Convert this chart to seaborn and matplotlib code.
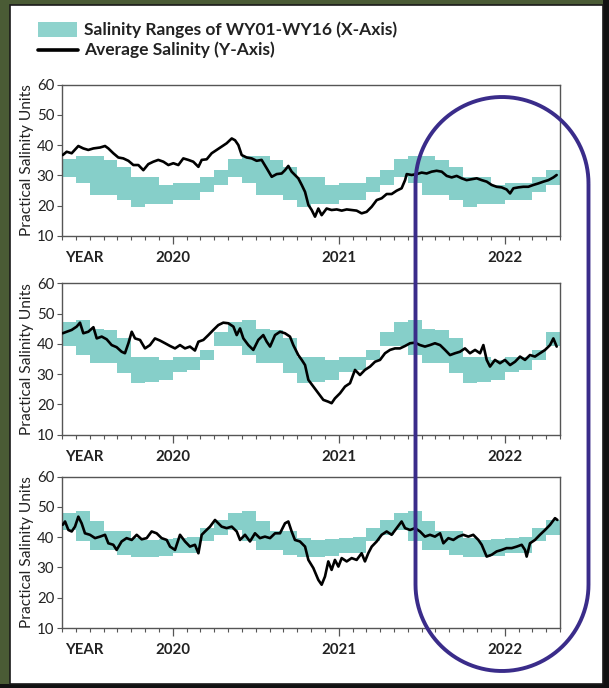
import numpy as np
import matplotlib
matplotlib.use("Agg")
import matplotlib.pyplot as plt
import seaborn as sns
from matplotlib.path import Path
from matplotlib.patches import PathPatch, Rectangle
from matplotlib.lines import Line2D
from matplotlib.transforms import Affine2D

sns.set_style("ticks")
plt.rcParams["font.family"] = ["Lato", "DejaVu Sans"]

# ---------------- data (months since 1 Oct 2019) ----------------
YEAR_TICKS = [1.6, 8, 20, 32]
YEAR_LABELS = ["YEAR", "2020", "2021", "2022"]
Y_TICKS = [10, 20, 30, 40, 50, 60]
Y_LABEL = "Practical Salinity Units"
LEGEND_BAND = "Salinity Ranges of WY01-WY16 (X-Axis)"
LEGEND_LINE = "Average Salinity (Y-Axis)"

# monthly WY01-WY16 salinity range (36 months shown)
P1_HIGH = [35.5, 36.4, 36.4, 35.2, 32.8, 29.3, 29.3, 26.8, 27.3, 27.3, 29.5, 31.7,
           35.5, 36.4, 36.4, 35.2, 32.8, 29.3, 29.3, 26.8, 27.3, 27.3, 29.5, 31.7,
           35.5, 36.4, 36.4, 35.2, 32.8, 29.3, 29.3, 26.8, 27.3, 27.3, 29.5, 31.7]
P1_LOW = [29.3, 27.5, 23.5, 23.5, 21.8, 19.6, 20.4, 20.4, 21.8, 21.8, 24.6, 26.8,
          29.3, 27.5, 23.5, 23.5, 21.8, 19.6, 20.4, 20.4, 21.8, 21.8, 24.6, 26.8,
          29.3, 27.5, 23.5, 23.5, 21.8, 19.6, 20.4, 20.4, 21.8, 21.8, 24.6, 26.8]
P2_HIGH = [47.1, 47.9, 45.0, 44.6, 41.8, 35.6, 35.6, 34.7, 35.6, 35.6, 38.0, 44.0,
           47.1, 47.9, 45.0, 44.6, 41.8, 35.6, 35.6, 34.7, 35.6, 35.6, 38.0, 44.0,
           47.1, 47.9, 45.0, 44.6, 41.8, 35.6, 35.6, 34.7, 35.6, 35.6, 38.0, 44.0]
P2_LOW = [39.2, 36.3, 33.6, 33.6, 30.3, 27.2, 27.5, 28.1, 30.8, 31.4, 34.7, 39.3,
          39.2, 36.3, 33.6, 33.6, 30.3, 27.2, 27.5, 28.1, 30.8, 31.4, 34.7, 39.3,
          39.2, 36.3, 33.6, 33.6, 30.3, 27.2, 27.5, 28.1, 30.8, 31.4, 34.7, 39.3]
P3_HIGH = [48.1, 48.8, 45.2, 41.9, 41.9, 39.7, 39.1, 39.3, 39.7, 40.2, 43.0, 45.7,
           48.1, 48.8, 45.2, 41.9, 41.9, 39.7, 39.1, 39.3, 39.7, 40.2, 43.0, 45.7,
           48.1, 48.8, 45.2, 41.9, 41.9, 39.7, 39.1, 39.3, 39.7, 40.2, 43.0, 45.7]
P3_LOW = [42.4, 38.6, 35.8, 35.8, 34.2, 33.4, 33.4, 33.8, 34.7, 34.9, 38.6, 40.8,
          42.4, 38.6, 35.8, 35.8, 34.2, 33.4, 33.4, 33.8, 34.7, 34.9, 38.6, 40.8,
          42.4, 38.6, 35.8, 35.8, 34.2, 33.4, 33.4, 33.8, 34.7, 34.9, 38.6, 40.8]

# average salinity (time in months, value in PSU)
P1_T = [0.05, 0.34, 0.70, 1.18, 1.54, 1.90, 2.27, 2.75, 3.11, 3.35, 3.71, 4.07, 4.43, 4.80,
        5.16, 5.52, 5.88, 6.24, 6.60, 6.96, 7.33, 7.69, 8.05, 8.41, 8.77, 9.13, 9.49, 9.86,
        10.10, 10.46, 10.82, 11.18, 11.54, 11.90, 12.27, 12.51, 12.75, 12.99, 13.35, 13.71,
        14.07, 14.43, 14.80, 15.16, 15.52, 15.88, 16.12, 16.36, 16.60, 16.84, 17.08, 17.33,
        17.57, 17.81, 18.05, 18.29, 18.53, 18.77, 19.13, 19.49, 19.86, 20.22, 20.58, 20.94,
        21.30, 21.66, 22.02, 22.39, 22.75, 23.11, 23.47, 23.83, 24.19, 24.55, 24.80, 24.92,
        25.28, 25.64, 26.00, 26.36, 26.72, 27.08, 27.45, 27.81, 28.17, 28.53, 28.89, 29.25,
        29.61, 29.98, 30.34, 30.70, 31.06, 31.42, 31.78, 32.14, 32.39, 32.63, 32.99, 33.35,
        33.71, 34.07, 34.43, 34.80, 35.16, 35.52, 35.76]
P1_S = [36.7, 37.8, 37.3, 39.7, 38.9, 38.4, 38.9, 39.2, 39.7, 38.9, 37.3, 35.9, 35.6, 34.8,
        33.4, 33.4, 31.7, 33.7, 34.5, 35.1, 34.5, 33.4, 34.0, 33.4, 35.6, 35.1, 34.5, 32.8,
        35.1, 35.3, 37.3, 38.4, 39.5, 40.6, 42.2, 41.6, 40.0, 36.7, 35.9, 35.6,
        34.8, 35.1, 32.3, 29.5, 30.4, 30.6, 31.7, 33.1, 31.2, 30.1, 29.0, 26.8,
        24.5, 20.2, 18.5, 16.3, 19.0, 16.8, 19.0, 18.5, 18.7, 18.3, 18.7, 18.5,
        18.3, 17.4, 17.9, 19.6, 21.8, 22.4, 23.8, 23.8, 24.9, 25.7, 28.4, 30.4,
        30.1, 30.4, 30.9, 30.6, 31.2, 31.5, 31.2, 29.8, 29.3, 29.8, 29.0, 28.4,
        28.7, 29.0, 28.4, 27.9, 26.8, 26.2, 26.0, 25.3, 24.0, 25.7, 26.0, 26.2,
        26.2, 26.8, 27.3, 27.9, 28.4, 29.3, 30.1]

P2_T = [0.05, 0.34, 0.70, 1.06, 1.30, 1.54, 1.90, 2.27, 2.51, 2.87, 3.23, 3.59, 3.95, 4.31,
        4.55, 4.80, 5.04, 5.28, 5.64, 6.00, 6.36, 6.72, 7.08, 7.45, 7.81, 8.17, 8.53, 8.89,
        9.25, 9.61, 9.86, 10.22, 10.58, 10.94, 11.30, 11.66, 12.02, 12.39, 12.63, 12.87,
        13.11, 13.47, 13.83, 14.19, 14.55, 14.80, 15.04, 15.40, 15.76, 16.12, 16.48, 16.72,
        17.08, 17.33, 17.57, 17.81, 18.17, 18.53, 18.89, 19.25, 19.49, 19.73, 20.10, 20.46,
        20.82, 21.18, 21.54, 21.90, 22.27, 22.63, 22.99, 23.35, 23.71, 24.07, 24.43, 24.80,
        25.16, 25.52, 25.88, 26.24, 26.60, 26.96, 27.33, 27.69, 28.05, 28.41, 28.77, 29.13,
        29.49, 29.86, 30.22, 30.46, 30.70, 30.94, 31.30, 31.66, 32.02, 32.39, 32.75, 33.11,
        33.47, 33.83, 34.19, 34.55, 34.92, 35.28, 35.52, 35.76]
P2_S = [43.5, 44.0, 44.6, 45.7, 47.0, 43.5, 44.0, 45.5, 41.8, 42.4, 41.5, 39.6, 38.9, 37.4,
        36.9, 40.2, 44.0, 41.8, 41.3, 38.5, 39.6, 41.8, 41.1, 40.2, 39.3, 38.5, 39.6, 38.5,
        39.1, 37.8, 40.7, 41.3, 42.9, 44.6, 46.2, 47.0, 46.8, 45.7, 42.9, 45.1,
        41.8, 39.6, 38.0, 41.3, 42.9, 40.7, 39.1, 42.9, 44.0, 43.5, 42.4, 39.6,
        36.3, 34.7, 33.0, 28.1, 25.9, 23.7, 21.5, 20.9, 20.4, 22.0, 23.7, 25.9,
        27.0, 31.4, 29.7, 31.4, 32.5, 34.1, 34.7, 36.9, 38.0, 38.5, 38.5, 39.3,
        40.2, 40.4, 39.6, 39.1, 39.6, 40.2, 39.6, 38.0, 36.3, 36.9, 37.4, 38.5,
        36.9, 38.0, 36.9, 39.6, 34.7, 32.5, 34.7, 33.6, 34.7, 33.0, 34.1, 35.8,
        34.7, 36.3, 35.8, 36.9, 38.0, 39.6, 41.8, 39.1]

P3_T = [0.05, 0.22, 0.46, 0.70, 0.94, 1.18, 1.42, 1.66, 2.02, 2.39, 2.75, 3.11, 3.35, 3.71,
        3.95, 4.31, 4.67, 5.04, 5.40, 5.76, 6.12, 6.48, 6.84, 7.20, 7.57, 7.81, 8.17, 8.53,
        8.89, 9.25, 9.61, 9.86, 10.10, 10.34, 10.70, 11.06, 11.30, 11.54, 11.90, 12.27,
        12.63, 12.87, 13.23, 13.59, 13.95, 14.31, 14.67, 15.04, 15.40, 15.76, 16.12, 16.36,
        16.60, 16.84, 17.20, 17.57, 17.81, 18.17, 18.53, 18.77, 19.01, 19.25, 19.49, 19.73,
        19.98, 20.22, 20.58, 20.94, 21.30, 21.66, 21.90, 22.14, 22.39, 22.75, 23.11, 23.47,
        23.83, 24.19, 24.55, 24.80, 25.16, 25.52, 25.88, 26.24, 26.60, 26.96, 27.33, 27.57,
        27.93, 28.29, 28.65, 29.01, 29.37, 29.73, 30.10, 30.34, 30.70, 31.06, 31.42, 31.78,
        32.14, 32.51, 32.87, 33.23, 33.47, 33.59, 33.83, 34.19, 34.55, 34.92, 35.28, 35.64,
        35.81]
P3_S = [44.1, 45.2, 42.4, 41.9, 43.5, 46.8, 44.6, 41.3, 40.8, 39.7, 40.2, 40.8, 38.0, 37.5,
        35.8, 38.6, 39.7, 39.1, 40.8, 39.3, 39.7, 41.9, 41.3, 39.7, 39.1, 36.9, 35.8, 40.8,
        38.6, 36.9, 37.5, 34.7, 40.8, 41.9, 43.5, 45.7, 44.6, 43.5, 43.0, 43.5,
        41.9, 39.1, 40.8, 38.6, 41.3, 39.7, 40.2, 39.7, 41.3, 41.3, 44.6, 45.2,
        41.9, 39.1, 38.6, 36.9, 32.5, 29.8, 25.9, 24.3, 27.0, 32.0, 29.2, 32.5,
        30.3, 33.1, 32.0, 33.1, 32.5, 34.7, 32.0, 34.7, 36.9, 38.6, 40.8, 41.9,
        40.8, 43.0, 45.2, 43.0, 42.4, 43.0, 41.9, 40.2, 40.8, 40.2, 41.3, 38.0,
        39.7, 39.1, 40.2, 40.8, 40.2, 40.8, 39.1, 37.5, 33.6, 34.2, 35.3, 35.8,
        36.4, 36.4, 36.9, 37.5, 35.8, 33.6, 38.0, 39.1, 40.8, 42.4, 44.1, 46.3,
        45.7]

PANELS = [
    (P1_LOW, P1_HIGH, P1_T, P1_S),
    (P2_LOW, P2_HIGH, P2_T, P2_S),
    (P3_LOW, P3_HIGH, P3_T, P3_S),
]

# ---------------- styling / layout ----------------
W, H = 609, 688
BAND_COLOR = "#86cfc9"
FRAME_GREEN = "#4a5b35"
OVAL_COLOR = "#3a2c8a"
SPINE = "#555555"

fig = plt.figure(figsize=(W / 100, H / 100), dpi=100, facecolor=FRAME_GREEN)
px = Affine2D().scale(1 / W, 1 / H) + fig.transFigure

# white page with dark frame
fig.patches.append(Rectangle((603, 0), 6, 688, transform=px, facecolor="#111111",
                             edgecolor="none", zorder=-3))
fig.patches.append(Rectangle((0, 0), 609, 4, transform=px, facecolor="#111111",
                             edgecolor="none", zorder=-3))
fig.patches.append(Rectangle((10, 4), 593, 679, transform=px, facecolor="white",
                             edgecolor="#1a1a1a", linewidth=1.2, zorder=-2))

# axes rectangles in pixels: (left, top, right, bottom)
AX_BOXES = [(62, 84.7, 560, 235.7), (62, 283.3, 560, 434.7), (62, 476.7, 560, 628.0)]

for (lo, hi, t, s), (l, tp, r, b) in zip(PANELS, AX_BOXES):
    ax = fig.add_axes([l / W, 1 - b / H, (r - l) / W, (b - tp) / H])
    ax.set_facecolor("white")
    edges = np.arange(len(lo) + 1)
    ax.fill_between(edges, list(lo) + [lo[-1]], list(hi) + [hi[-1]], step="post",
                    color=BAND_COLOR, linewidth=0, zorder=1)
    sns.lineplot(x=t, y=s, ax=ax, color="black", linewidth=1.9, estimator=None,
                 sort=False, zorder=3)
    ax.set_xlim(0, 36)
    ax.set_ylim(10, 60)
    ax.set_yticks(Y_TICKS)
    ax.set_yticklabels([str(v) for v in Y_TICKS], fontsize=10.8, color="#222222")
    ax.set_xticks(YEAR_TICKS)
    ax.set_xticklabels(YEAR_LABELS, fontsize=10.8, fontweight="bold", color="#222222")
    ax.xaxis.get_major_ticks()[0].tick1line.set_visible(False)
    ax.set_xticks(np.arange(0, 37), minor=True)
    ax.tick_params(axis="x", which="major", direction="out", length=6, width=0.9,
                   color=SPINE, pad=5)
    ax.tick_params(axis="x", which="minor", direction="out", length=3, width=0.8,
                   color=SPINE)
    ax.tick_params(axis="y", which="major", direction="out", length=3.5, width=0.8,
                   color=SPINE, pad=2)
    for sp in ax.spines.values():
        sp.set_visible(True)
        sp.set_color(SPINE)
        sp.set_linewidth(1.0)
    ax.set_xlabel("")
    ax.set_ylabel(Y_LABEL, fontsize=11.2, color="#222222")
    ax.yaxis.set_label_coords(-0.056, 0.5)
    ax.grid(False)

# legend (drawn in page pixels)
fig.patches.append(Rectangle((38, H - 37), 39, 15, transform=px, facecolor="#8fd3cd",
                             edgecolor="none"))
fig.lines.append(Line2D([38, 78], [H - 50, H - 50], transform=px, color="black",
                        linewidth=2.6))
fig.text(84 / W, 1 - 29.5 / H, LEGEND_BAND, fontsize=12.5, fontweight="bold",
         color="#222222", va="center", ha="left")
fig.text(84 / W, 1 - 50 / H, LEGEND_LINE, fontsize=12.5, fontweight="bold",
         color="#222222", va="center", ha="left")

# highlight stadium outline
cx, r = 502.0, 86.5
y_top, y_bot = H - 97.0, H - 671.0
th1 = np.linspace(0, np.pi, 60)
th2 = np.linspace(np.pi, 2 * np.pi, 60)
xs = np.concatenate([cx + r * np.cos(th1), cx + r * np.cos(th2), [cx + r]])
ys = np.concatenate([(y_top - r) + r * np.sin(th1), (y_bot + r) + r * np.sin(th2),
                     [y_top - r]])
stadium = PathPatch(Path(np.column_stack([xs, ys])), transform=px, facecolor="none",
                    edgecolor=OVAL_COLOR, linewidth=2.8, zorder=10)
fig.patches.append(stadium)

fig.savefig("out.png", dpi=100, facecolor=FRAME_GREEN)
